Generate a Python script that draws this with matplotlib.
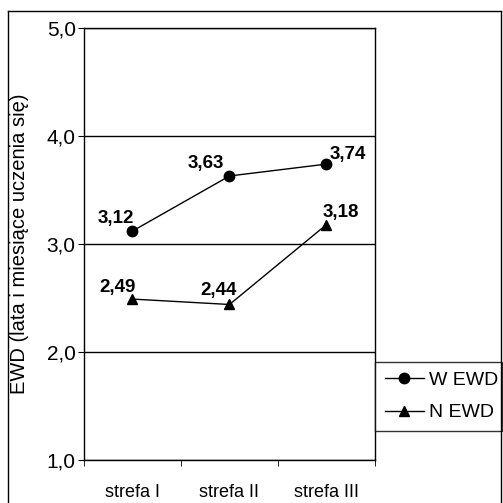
import matplotlib.pyplot as plt
from matplotlib.lines import Line2D

plt.rcParams['font.family'] = ['Liberation Sans', 'DejaVu Sans']

categories = ["strefa I", "strefa II", "strefa III"]
w_ewd = [3.12, 3.63, 3.74]
n_ewd = [2.49, 2.44, 3.18]
y_ticks = [1.0, 2.0, 3.0, 4.0, 5.0]

# label offsets in points (excel-like placement)
w_offsets = [(-12, 9), (-17, 9), (15, 7)]
n_offsets = [(-11, 8), (-8, 10), (10, 9)]

fig = plt.figure(figsize=(5.03, 5.03), dpi=100)
ax = fig.add_axes([0.167, 0.0855, 0.5785, 0.8588])

x = list(range(len(categories)))
ax.plot(x, w_ewd, color="black", lw=1, marker="o", ms=7.5, label="W EWD")
ax.plot(x, n_ewd, color="black", lw=1, marker="^", ms=7.5, label="N EWD")

for xi, v, off in zip(x, w_ewd, w_offsets):
    ax.annotate(f"{v:.2f}".replace(".", ","), (xi, v), xytext=off,
                textcoords="offset points", ha="center", va="center",
                fontsize=13.5, fontweight="bold")
for xi, v, off in zip(x, n_ewd, n_offsets):
    ax.annotate(f"{v:.2f}".replace(".", ","), (xi, v), xytext=off,
                textcoords="offset points", ha="center", va="center",
                fontsize=13.5, fontweight="bold")

ax.set_xlim(-0.5, 2.5)
ax.set_ylim(1.0, 5.0)
ax.set_yticks(y_ticks)
ax.set_yticklabels([f"{t:.1f}".replace(".", ",") for t in y_ticks], fontsize=15)
ax.set_xticks(x)
ax.set_xticklabels(categories, fontsize=13)
ax.set_xticks([-0.5, 0.5, 1.5, 2.5], minor=True)
ax.tick_params(axis="x", which="major", length=0, pad=17)
ax.tick_params(axis="x", which="minor", length=4, direction="out")
ax.tick_params(axis="y", length=4, direction="out", pad=2)
ax.yaxis.grid(True, color="black", lw=1)
for s in ax.spines.values():
    s.set_linewidth(1)

ax.set_ylabel("EWD (lata i miesiące uczenia się)", fontsize=14.5)
ax.yaxis.set_label_coords(-0.19, 0.5)

leg = ax.legend(loc="lower left", bbox_to_anchor=(1.0, 0.067, 0.436, 0.16),
                mode="expand", frameon=True, fancybox=False, edgecolor="black",
                fontsize=14, handlelength=2.0, handletextpad=0.3,
                borderaxespad=0, borderpad=0.5, labelspacing=0.75)
leg.get_frame().set_linewidth(1)

# outer frame around chart
fig.add_artist(Line2D([0.015, 0.015], [0.0, 0.978], color="black", lw=1))
fig.add_artist(Line2D([0.015, 0.997], [0.978, 0.978], color="black", lw=1))
fig.add_artist(Line2D([0.997, 0.997], [0.0, 0.978], color="black", lw=1))

fig.savefig("out.png", dpi=100)
